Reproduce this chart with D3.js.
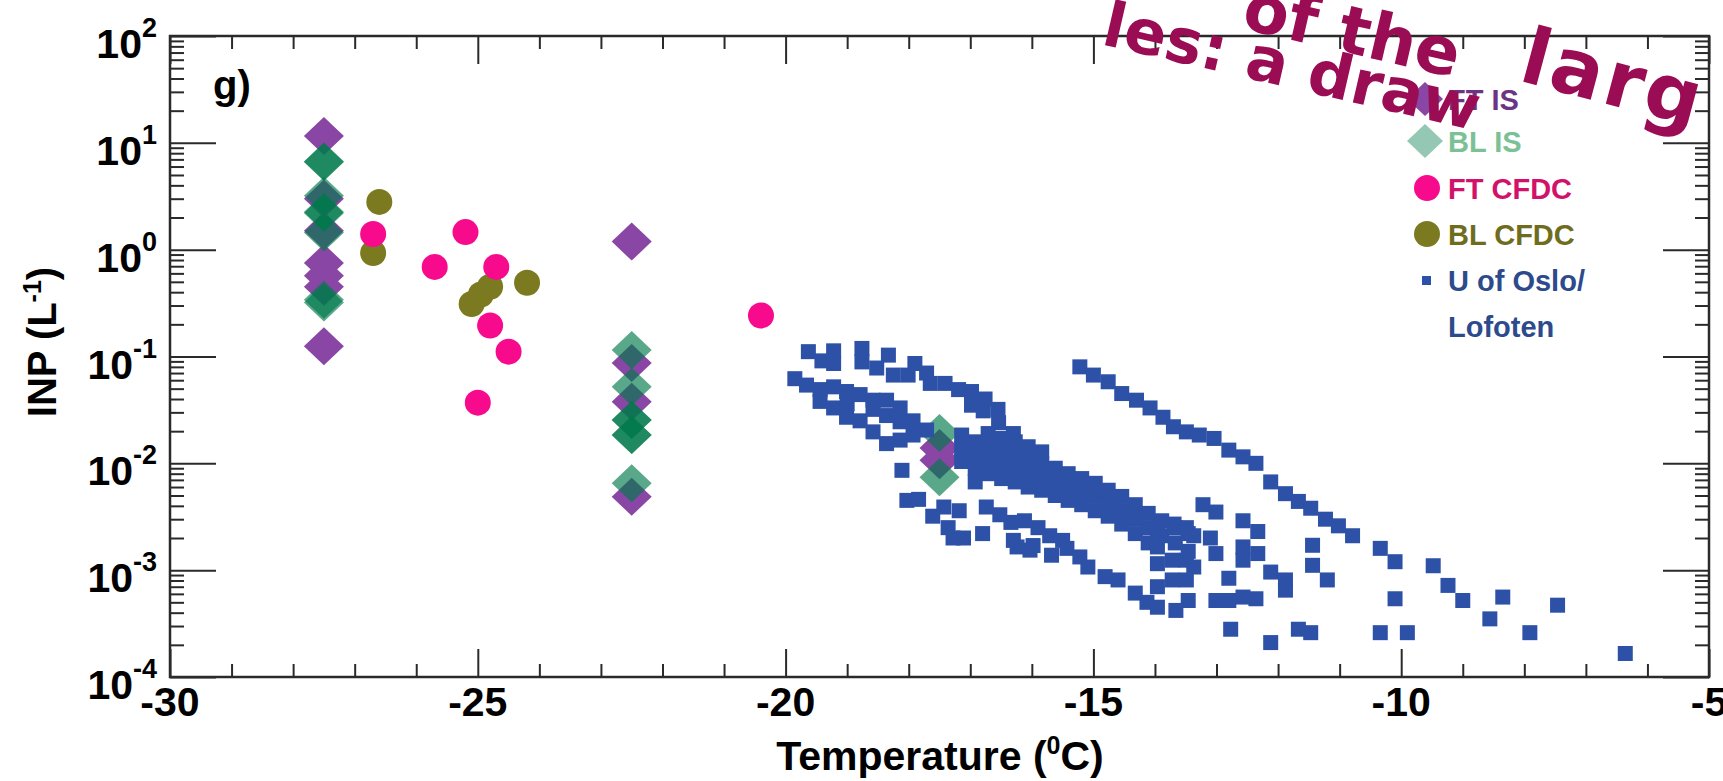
<!DOCTYPE html>
<html>
<head>
<meta charset="utf-8">
<script src="https://cdn.jsdelivr.net/npm/d3@7"></script>
<style>
  body { margin: 0; background: #fff; }
  text { font-family: "Liberation Sans", Arial, sans-serif; font-weight: bold; }
</style>
</head>
<body>
<div id="chart"></div>
<script>
// ---------------------- data : [temperature (C), INP (per L)] ----------------------
var ftIS = [[-27.5, 11.6], [-27.5, 3.0], [-27.5, 1.5], [-27.5, 0.75], [-27.5, 0.57], [-27.5, 0.45], [-27.5, 0.125],
            [-22.5, 1.19], [-22.5, 0.087], [-22.5, 0.0377], [-22.5, 0.00487],
            [-17.5, 0.0139], [-17.5, 0.0107]];

var blIS = [[-27.5, 6.6], [-27.5, 6.7], [-27.5, 3.2], [-27.5, 2.2], [-27.5, 2.25], [-27.5, 1.45], [-27.5, 0.34], [-27.5, 0.32],
            [-22.5, 0.115], [-22.5, 0.052], [-22.5, 0.0254], [-22.5, 0.0254], [-22.5, 0.0184], [-22.5, 0.0184], [-22.5, 0.0065],
            [-17.5, 0.0192], [-17.5, 0.0074]];

var ftCFDC = [[-26.7, 1.4], [-25.7, 0.69], [-25.2, 1.46], [-24.7, 0.69], [-24.8, 0.195], [-24.5, 0.111], [-25.0, 0.037], [-20.4, 0.242]];

var blCFDC = [[-26.6, 2.8], [-26.7, 0.93], [-25.1, 0.31], [-24.95, 0.38], [-24.8, 0.45], [-24.2, 0.49]];

var oslo = [
  [-19.63, 0.111], [-19.22, 0.113], [-18.76, 0.119], [-18.33, 0.103], [-17.90, 0.086], [-19.41, 0.091], [-19.22, 0.086], [-18.76, 0.089], [-19.85, 0.062],
  [-18.52, 0.078], [-18.25, 0.067], [-18.01, 0.067], [-17.71, 0.070], [-17.65, 0.056], [-17.41, 0.056], [-17.19, 0.049], [-16.98, 0.047], [-16.98, 0.035],
  [-16.79, 0.031], [-16.76, 0.040], [-16.54, 0.024], [-16.55, 0.032], [-16.30, 0.019],
  [-19.66, 0.054], [-19.44, 0.049], [-19.22, 0.052], [-19.01, 0.047], [-18.79, 0.044], [-18.58, 0.039], [-18.36, 0.039], [-19.22, 0.033], [-19.01, 0.027],
  [-18.79, 0.025], [-18.58, 0.032], [-18.36, 0.028], [-18.14, 0.033], [-18.14, 0.0245], [-17.93, 0.025], [-18.58, 0.0197], [-18.36, 0.0153], [-18.14, 0.0165],
  [-17.93, 0.0184], [-17.71, 0.0205], [-19.44, 0.038], [-19.0, 0.036],
  [-18.11, 0.0086], [-18.03, 0.0045], [-17.84, 0.0046],
  [-17.14, 0.0184], [-17.14, 0.0138], [-17.14, 0.0104], [-16.92, 0.0159], [-16.92, 0.0119], [-16.92, 0.0090], [-16.92, 0.0067], [-16.71, 0.019], [-16.71, 0.0143],
  [-16.71, 0.0107], [-16.71, 0.0080], [-16.49, 0.0171], [-16.49, 0.0128], [-16.49, 0.0096], [-16.49, 0.0072], [-16.27, 0.0159], [-16.27, 0.0119], [-16.27, 0.0090],
  [-16.27, 0.0067], [-16.06, 0.0143], [-16.06, 0.0107], [-16.06, 0.0080], [-16.06, 0.0060],
  [-15.84, 0.0128], [-15.84, 0.0100], [-15.84, 0.0075], [-15.84, 0.0056], [-15.62, 0.0090], [-15.62, 0.0067], [-15.62, 0.0050], [-15.41, 0.0080], [-15.41, 0.0060],
  [-15.41, 0.0045], [-15.19, 0.0072], [-15.19, 0.0054], [-15.19, 0.0041], [-14.97, 0.0065], [-14.97, 0.0049], [-14.97, 0.0036], [-14.76, 0.0056], [-14.76, 0.0042],
  [-14.76, 0.0032],
  [-14.54, 0.0049], [-14.54, 0.0036], [-14.54, 0.0027], [-14.32, 0.0041], [-14.32, 0.0030], [-14.32, 0.0022], [-14.11, 0.0034], [-14.11, 0.0025], [-14.11, 0.0018],
  [-13.89, 0.0029], [-13.89, 0.0021], [-13.67, 0.0025], [-13.67, 0.0018], [-13.46, 0.0022], [-13.46, 0.0015],
  [-15.22, 0.080], [-15.0, 0.067], [-14.76, 0.058], [-14.54, 0.045], [-14.30, 0.039], [-14.08, 0.033], [-13.87, 0.027], [-13.70, 0.022], [-13.49, 0.0197],
  [-13.28, 0.0184], [-13.04, 0.0171], [-12.80, 0.0133], [-12.57, 0.0115], [-12.36, 0.0100], [-12.12, 0.0067], [-11.88, 0.0052], [-11.67, 0.0044], [-11.47, 0.0038],
  [-11.23, 0.0030], [-11.02, 0.0026], [-10.79, 0.0021], [-10.34, 0.0016], [-10.10, 0.0012], [-9.48, 0.0011], [-9.24, 0.00072], [-9.0, 0.00052], [-8.35, 0.00056],
  [-8.56, 0.00035], [-7.91, 0.00026], [-7.46, 0.00047], [-6.36, 0.000166],
  [-13.22, 0.0041], [-13.01, 0.0035], [-12.57, 0.0029], [-12.33, 0.0023], [-12.57, 0.00165], [-12.33, 0.00143], [-12.57, 0.00124], [-12.12, 0.00096], [-11.88, 0.00081],
  [-11.88, 0.00065], [-11.44, 0.00171], [-11.44, 0.00111], [-11.2, 0.00081], [-10.10, 0.00054], [-10.34, 0.00026], [-9.9, 0.00026], [-11.47, 0.00026], [-11.67, 0.00028],
  [-12.12, 0.00021], [-12.77, 0.00028], [-13.01, 0.00052], [-12.80, 0.00052], [-12.57, 0.00056], [-12.36, 0.00054], [-12.80, 0.00084], [-13.72, 0.00124], [-13.49, 0.00124],
  [-13.37, 0.00107], [-13.72, 0.00081], [-13.49, 0.00081], [-13.66, 0.00042], [-13.46, 0.00052], [-13.69, 0.0027], [-13.49, 0.0025], [-13.37, 0.0021], [-13.1, 0.0020],
  [-13.01, 0.00143], [-13.96, 0.0024], [-13.96, 0.00165], [-13.96, 0.00115], [-13.96, 0.0007], [-13.96, 0.00045],
  [-17.43, 0.0039], [-17.18, 0.0036], [-17.61, 0.0032], [-17.36, 0.0025], [-17.11, 0.0020], [-16.80, 0.0022], [-16.74, 0.0039], [-16.52, 0.0033], [-16.34, 0.0028],
  [-16.12, 0.0029], [-15.90, 0.0025], [-15.71, 0.0021], [-15.50, 0.0019], [-16.24, 0.00165], [-16.03, 0.00154], [-15.68, 0.00138], [-15.43, 0.0016], [-15.22, 0.00133],
  [-15.09, 0.00107], [-14.81, 0.00087], [-14.60, 0.00081], [-14.32, 0.00061], [-14.13, 0.0005], [-17.28, 0.0020], [-16.30, 0.0019], [-15.98, 0.0017]
];

var xTicks = [-30, -25, -20, -15, -10, -5];
var yExponents = [-4, -3, -2, -1, 0, 1, 2];
var legendLabels = ["FT IS", "BL IS", "FT CFDC", "BL CFDC", "U of Oslo/", "Lofoten"];
var overlayPieces = ["les: a draw", "of the", "larg"];

// ---------------------- colours ----------------------
var cPurple = "#8a46a4", cGreen = "#007a4c", cPink = "#f70a8c", cOlive = "#7b7a20", cBlue = "#2e51a8", cAxis = "#2a2a2a";

// ---------------------- svg + scales ----------------------
var svg = d3.select("#chart")
     .append("svg")
     .attr("width", 1723)
     .attr("height", 781);

var x = d3.scaleLinear().domain([-30, -5]).range([170, 1709]);
var y = d3.scaleLog().domain([1e-4, 1e2]).range([677, 36]);

// ---------------------- axes (ticks inward on all four sides) ----------------------
var xMinor = d3.range(-30, -4, 1).filter(function (v) { return v % 5 !== 0; });
var yMajor = yExponents.map(function (e) { return Math.pow(10, e); });
var yMinor = [];
yExponents.slice(0, -1).forEach(function (e) {
  for (var k = 2; k <= 9; k++) yMinor.push(k * Math.pow(10, e));
});

function bare(g) {
  g.select(".domain").remove();
  g.selectAll(".tick text").remove();
  g.selectAll(".tick line").attr("stroke", cAxis).attr("stroke-width", 2);
}

svg.append("g").attr("transform", "translate(0,677)").call(d3.axisBottom(x).tickValues(xTicks).tickSize(-28)).call(bare);
svg.append("g").attr("transform", "translate(0,677)").call(d3.axisBottom(x).tickValues(xMinor).tickSize(-13)).call(bare);
svg.append("g").attr("transform", "translate(0,36)").call(d3.axisTop(x).tickValues(xTicks).tickSize(-28)).call(bare);
svg.append("g").attr("transform", "translate(0,36)").call(d3.axisTop(x).tickValues(xMinor).tickSize(-13)).call(bare);
svg.append("g").attr("transform", "translate(170,0)").call(d3.axisLeft(y).tickValues(yMajor).tickSize(-46)).call(bare);
svg.append("g").attr("transform", "translate(170,0)").call(d3.axisLeft(y).tickValues(yMinor).tickSize(-14)).call(bare);
svg.append("g").attr("transform", "translate(1709,0)").call(d3.axisRight(y).tickValues(yMajor).tickSize(-46)).call(bare);
svg.append("g").attr("transform", "translate(1709,0)").call(d3.axisRight(y).tickValues(yMinor).tickSize(-14)).call(bare);

svg.append("rect")
     .attr("x", 170).attr("y", 36)
     .attr("width", 1539).attr("height", 641)
     .attr("fill", "none")
     .attr("stroke", cAxis)
     .attr("stroke-width", 2.5);

// tick labels
svg.selectAll(".xlab")
     .data(xTicks)
     .enter()
     .append("text")
     .attr("class", "xlab")
     .attr("x", function (d) { return x(d); })
     .attr("y", 716)
     .attr("text-anchor", "middle")
     .style("font-size", "41px")
     .text(function (d) { return "-" + Math.abs(d); });

var ylab = svg.selectAll(".ylab")
     .data(yExponents)
     .enter()
     .append("text")
     .attr("class", "ylab")
     .attr("x", 157)
     .attr("y", function (d) { return y(Math.pow(10, d)) + 22; })
     .attr("text-anchor", "end")
     .style("font-size", "41px");
ylab.append("tspan").text("10");
ylab.append("tspan").attr("dy", -21).style("font-size", "27px").text(function (d) { return d; });

// axis titles
var xt = svg.append("text")
     .attr("x", 940).attr("y", 770)
     .attr("text-anchor", "middle")
     .style("font-size", "41px");
xt.append("tspan").text("Temperature (");
xt.append("tspan").attr("dy", -16).style("font-size", "25px").text("0");
xt.append("tspan").attr("dy", 16).text("C)");

var yt = svg.append("text")
     .attr("transform", "translate(56,342) rotate(-90)")
     .attr("text-anchor", "middle")
     .style("font-size", "40px");
yt.append("tspan").text("INP (L");
yt.append("tspan").attr("dy", -15).style("font-size", "25px").text("-1");
yt.append("tspan").attr("dy", 15).text(")");

svg.append("text")
     .attr("x", 213).attr("y", 99)
     .style("font-size", "40px")
     .text("g)");

// ---------------------- marks ----------------------
var diamond = "M0,-19L20,0L0,19L-20,0Z";

svg.append("g").selectAll("path")
     .data(ftIS)
     .enter()
     .append("path")
     .attr("d", diamond)
     .attr("transform", function (d) { return "translate(" + x(d[0]) + "," + y(d[1]) + ")"; })
     .attr("fill", cPurple);

svg.append("g").selectAll("path")
     .data(blIS)
     .enter()
     .append("path")
     .attr("d", diamond)
     .attr("transform", function (d) { return "translate(" + x(d[0]) + "," + y(d[1]) + ")"; })
     .attr("fill", cGreen)
     .attr("fill-opacity", 0.65);

svg.append("g").selectAll("circle")
     .data(blCFDC)
     .enter()
     .append("circle")
     .attr("cx", function (d) { return x(d[0]); })
     .attr("cy", function (d) { return y(d[1]); })
     .attr("r", 13)
     .attr("fill", cOlive);

svg.append("g").selectAll("circle")
     .data(ftCFDC)
     .enter()
     .append("circle")
     .attr("cx", function (d) { return x(d[0]); })
     .attr("cy", function (d) { return y(d[1]); })
     .attr("r", 13)
     .attr("fill", cPink);

svg.append("g").selectAll("rect")
     .data(oslo)
     .enter()
     .append("rect")
     .attr("x", function (d) { return x(d[0]) - 7.5; })
     .attr("y", function (d) { return y(d[1]) - 7.5; })
     .attr("width", 15)
     .attr("height", 15)
     .attr("fill", cBlue);

// ---------------------- legend ----------------------
var lg = svg.append("g");
var rowsY = [99, 141, 188, 234, 280, 326];
var textCol = ["#6e3484", "#7cc196", "#d2126a", "#6f6c1e", "#2c4a8c", "#2c4a8c"];

lg.append("path").attr("d", "M0,-17L18,0L0,17L-18,0Z").attr("transform", "translate(1425,99)").attr("fill", cPurple);
lg.append("path").attr("d", "M0,-17L18,0L0,17L-18,0Z").attr("transform", "translate(1425,141)").attr("fill", cGreen).attr("fill-opacity", 0.42);
lg.append("circle").attr("cx", 1427).attr("cy", 188).attr("r", 13).attr("fill", cPink);
lg.append("circle").attr("cx", 1427).attr("cy", 234).attr("r", 13).attr("fill", cOlive);
lg.append("rect").attr("x", 1422).attr("y", 276).attr("width", 9).attr("height", 9).attr("fill", cBlue);

lg.selectAll("text")
     .data(legendLabels)
     .enter()
     .append("text")
     .attr("x", 1448)
     .attr("y", function (d, i) { return rowsY[i] + 11; })
     .attr("fill", function (d, i) { return textCol[i]; })
     .style("font-size", "29px")
     .text(function (d) { return d; });

// ---------------------- overlay text across the top right ----------------------
var overlayPos = [
  { t: "translate(1100,44) rotate(13)", size: 62, gap: 0 },
  { t: "translate(1240,28) rotate(13)", size: 66, gap: 0 },
  { t: "translate(1517,80) rotate(15)", size: 78, gap: 3 }
];
svg.selectAll(".overlay")
     .data(overlayPieces)
     .enter()
     .append("text")
     .attr("class", "overlay")
     .attr("transform", function (d, i) { return overlayPos[i].t; })
     .attr("fill", "#9a0c54")
     .style("font-family", "'DejaVu Sans', sans-serif")
     .style("font-size", function (d, i) { return overlayPos[i].size + "px"; })
     .style("letter-spacing", function (d, i) { return overlayPos[i].gap + "px"; })
     .text(function (d) { return d; });
</script>
</body>
</html>
